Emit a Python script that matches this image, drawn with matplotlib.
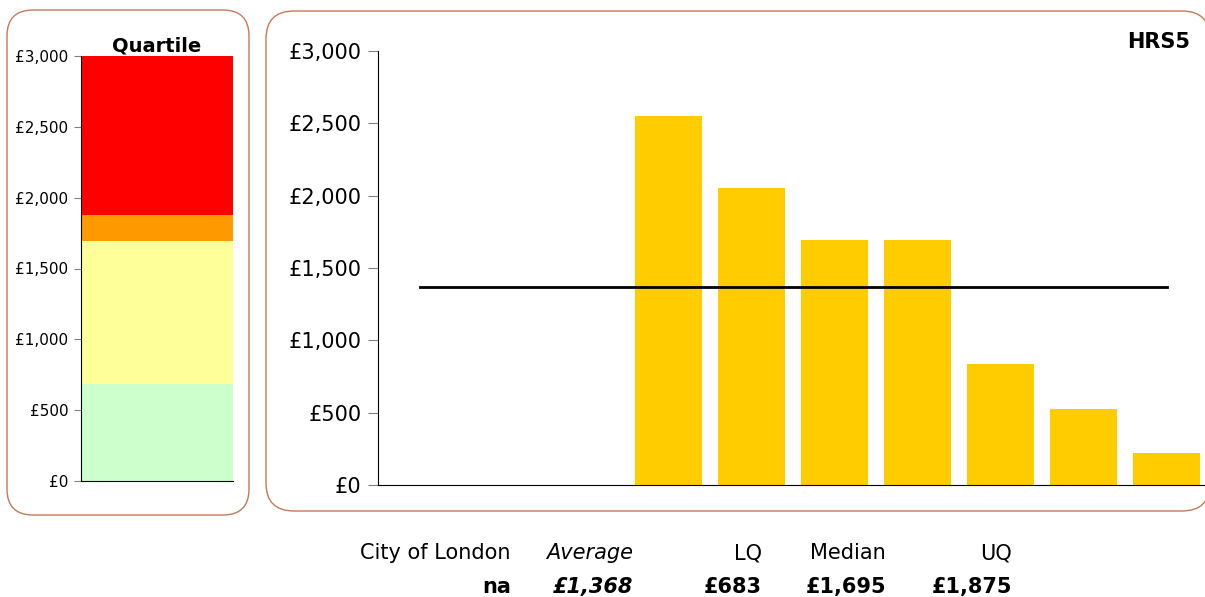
import numpy as np
import matplotlib.pyplot as plt
from matplotlib.patches import FancyBboxPatch
from matplotlib.ticker import FuncFormatter

plt.rcParams['font.family'] = ['DejaVu Sans']

# main chart: 10 authorities, first three have no value
values = [0, 0, 0, 2551, 2053, 1694, 1694, 836, 525, 221]
average = 1368

# quartile bands (LQ, Median, UQ, top of scale)
q_edges = [0, 683, 1695, 1875, 3000]
q_colors = ["#CCFFCC", "#FFFF99", "#FF9900", "#FF0000"]

head_labels = ["City of London", "Average", "LQ", "Median", "UQ"]
head_values = ["na", "£1,368", "£683", "£1,695", "£1,875"]

W, H = 1205, 597
fig = plt.figure(figsize=(W / 100, H / 100), dpi=100)

# background layer in pixel units for frames and table text
bg = fig.add_axes([0, 0, 1, 1], zorder=-1)
bg.set_xlim(0, W)
bg.set_ylim(H, 0)
bg.axis("off")
edge = "#C47A55"
bg.add_patch(FancyBboxPatch((7, 10), 242, 505, boxstyle="round,pad=0,rounding_size=26",
                            fc="white", ec=edge, lw=1.0))
bg.add_patch(FancyBboxPatch((266, 11), 944, 500, boxstyle="round,pad=0,rounding_size=28",
                            fc="white", ec=edge, lw=1.0))

money = FuncFormatter(lambda v, p: "£{:,.0f}".format(v))

# quartile panel
axq = fig.add_axes([81 / W, (H - 481) / H, 152 / W, 425 / H])
for lo, hi, c in zip(q_edges[:-1], q_edges[1:], q_colors):
    axq.bar(0, hi - lo, bottom=lo, width=1.0, color=c, linewidth=0)
axq.set_xlim(-0.5, 0.5)
axq.set_ylim(0, 3000)
axq.set_yticks(range(0, 3001, 500))
axq.yaxis.set_major_formatter(money)
axq.set_xticks([])
axq.tick_params(axis="y", labelsize=11, length=5, color="#808080", pad=4)
for s in ["top", "right"]:
    axq.spines[s].set_visible(False)
axq.set_title("Quartile", fontsize=14, fontweight="bold", pad=3)

# main panel
ax = fig.add_axes([378 / W, (H - 485) / H, 830 / W, 434 / H])
x = np.arange(len(values))
ax.bar(x, values, width=0.8, color="#FFCC00", linewidth=0)
ax.plot([x[0], x[-1]], [average, average], color="black", lw=2)
ax.set_xlim(-0.5, len(values) - 0.5)
ax.set_ylim(0, 3000)
ax.set_yticks(range(0, 3001, 500))
ax.yaxis.set_major_formatter(money)
ax.set_xticks([])
ax.tick_params(axis="y", labelsize=15, length=7, color="#808080", pad=5)
for s in ["top", "right"]:
    ax.spines[s].set_visible(False)
bg.text(1190, 42, "HRS5", fontsize=15, fontweight="bold", ha="right", va="center")

# summary table under the chart
right_x = [511, 633, 762, 886, 1012]
for i, (lab, val, rx) in enumerate(zip(head_labels, head_values, right_x)):
    style = "italic" if i == 1 else "normal"
    bg.text(rx, 553, lab, fontsize=15, ha="right", va="center", fontstyle=style)
    bg.text(rx, 587, val, fontsize=15, ha="right", va="center",
            fontweight="bold", fontstyle=style)

fig.savefig("out.png", dpi=100)
